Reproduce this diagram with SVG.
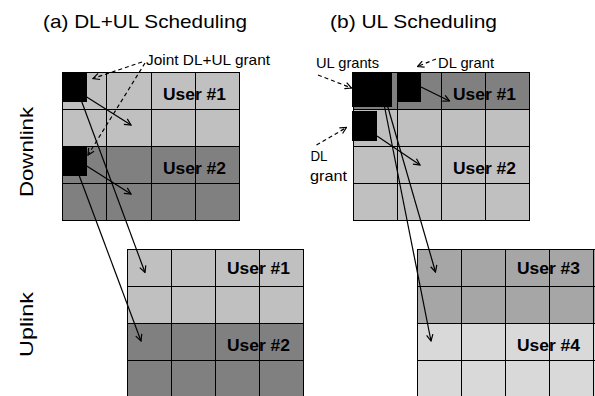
<svg xmlns="http://www.w3.org/2000/svg" width="595" height="396" viewBox="0 0 595 396">
<style>
text{font-family:"Liberation Sans",Arial,sans-serif;fill:#000}
.title{font-size:19px}
.side{font-size:18px}
.user{font-size:17px;font-weight:bold}
.lbl{font-size:15px}
.grid line{stroke:#000;stroke-width:1}
.conn{fill:none;stroke:#000;stroke-width:1.2}
.dash{stroke-dasharray:4 3}
.blk{fill:#000}
</style>
<defs>
<marker id="ah" viewBox="0 0 10 10" refX="9" refY="5" markerWidth="8" markerHeight="8" orient="auto" markerUnits="userSpaceOnUse">
<path d="M1,1 L9,5 L1,9" fill="none" stroke="#000" stroke-width="1.5"/>
</marker>
</defs>
<rect width="595" height="396" fill="#fff"/>

<g id="title-a"><text class="title" x="43" y="28" textLength="204" lengthAdjust="spacingAndGlyphs">(a) DL+UL Scheduling</text></g>
<g id="title-b"><text class="title" x="330" y="28" textLength="167" lengthAdjust="spacingAndGlyphs">(b) UL Scheduling</text></g>
<g id="label-downlink"><text class="side" transform="translate(33,152) rotate(-90)" text-anchor="middle" textLength="90" lengthAdjust="spacingAndGlyphs">Downlink</text></g>
<g id="label-uplink"><text class="side" transform="translate(33,324.5) rotate(-90)" text-anchor="middle" textLength="65" lengthAdjust="spacingAndGlyphs">Uplink</text></g>

<g id="grid-a-dl" class="grid">
<rect x="62" y="72" width="178" height="74" fill="#c0c0c0"/>
<rect x="62" y="146" width="178" height="74" fill="#808080"/>
<line x1="62.5" y1="72" x2="62.5" y2="221"/><line x1="106.5" y1="72" x2="106.5" y2="221"/><line x1="151.5" y1="72" x2="151.5" y2="221"/><line x1="195.5" y1="72" x2="195.5" y2="221"/><line x1="239.5" y1="72" x2="239.5" y2="221"/>
<line x1="62" y1="72.5" x2="240" y2="72.5"/><line x1="62" y1="109.5" x2="240" y2="109.5"/><line x1="62" y1="146.5" x2="240" y2="146.5"/><line x1="62" y1="183.5" x2="240" y2="183.5"/><line x1="62" y1="220.5" x2="240" y2="220.5"/>
<text class="user" x="163" y="100" textLength="63" lengthAdjust="spacingAndGlyphs">User #1</text>
<text class="user" x="163" y="174" textLength="63" lengthAdjust="spacingAndGlyphs">User #2</text>
</g>

<g id="grid-a-ul" class="grid">
<rect x="127" y="249" width="176" height="74" fill="#c0c0c0"/>
<rect x="127" y="323" width="176" height="74" fill="#808080"/>
<line x1="127.5" y1="249" x2="127.5" y2="397"/><line x1="171.5" y1="249" x2="171.5" y2="397"/><line x1="215.5" y1="249" x2="215.5" y2="397"/><line x1="259.5" y1="249" x2="259.5" y2="397"/><line x1="303.5" y1="249" x2="303.5" y2="397"/>
<line x1="127" y1="249.5" x2="304" y2="249.5"/><line x1="127" y1="286.5" x2="304" y2="286.5"/><line x1="127" y1="323.5" x2="304" y2="323.5"/><line x1="127" y1="360.5" x2="304" y2="360.5"/>
<text class="user" x="227" y="274" textLength="63" lengthAdjust="spacingAndGlyphs">User #1</text>
<text class="user" x="227" y="350.5" textLength="63" lengthAdjust="spacingAndGlyphs">User #2</text>
</g>

<g id="grid-b-dl" class="grid">
<rect x="353" y="72" width="176" height="37" fill="#808080"/>
<rect x="353" y="109" width="176" height="111" fill="#c0c0c0"/>
<line x1="353.5" y1="72" x2="353.5" y2="221"/><line x1="397.5" y1="72" x2="397.5" y2="221"/><line x1="441.5" y1="72" x2="441.5" y2="221"/><line x1="485.5" y1="72" x2="485.5" y2="221"/><line x1="529.5" y1="72" x2="529.5" y2="221"/>
<line x1="353" y1="72.5" x2="530" y2="72.5"/><line x1="353" y1="109.5" x2="530" y2="109.5"/><line x1="353" y1="146.5" x2="530" y2="146.5"/><line x1="353" y1="183.5" x2="530" y2="183.5"/><line x1="353" y1="220.5" x2="530" y2="220.5"/>
<text class="user" x="453" y="100" textLength="63" lengthAdjust="spacingAndGlyphs">User #1</text>
<text class="user" x="453" y="174" textLength="63" lengthAdjust="spacingAndGlyphs">User #2</text>
</g>

<g id="grid-b-ul" class="grid">
<rect x="417" y="249" width="178" height="74" fill="#a6a6a6"/>
<rect x="417" y="323" width="178" height="74" fill="#d9d9d9"/>
<line x1="417.5" y1="249" x2="417.5" y2="397"/><line x1="461.5" y1="249" x2="461.5" y2="397"/><line x1="505.5" y1="249" x2="505.5" y2="397"/><line x1="549.5" y1="249" x2="549.5" y2="397"/><line x1="593.5" y1="249" x2="593.5" y2="397"/>
<line x1="417" y1="249.5" x2="595" y2="249.5"/><line x1="417" y1="286.5" x2="595" y2="286.5"/><line x1="417" y1="323.5" x2="595" y2="323.5"/><line x1="417" y1="360.5" x2="595" y2="360.5"/>
<text class="user" x="517" y="274" textLength="63" lengthAdjust="spacingAndGlyphs">User #3</text>
<text class="user" x="517" y="350.5" textLength="63" lengthAdjust="spacingAndGlyphs">User #4</text>
</g>

<g id="grant-a1"><rect class="blk" x="62" y="72" width="25" height="30"/></g>
<g id="grant-a2"><rect class="blk" x="62" y="146" width="25" height="30"/></g>
<g id="grant-b-ul"><rect class="blk" x="352" y="72" width="40" height="35"/></g>
<g id="grant-b-dl1"><rect class="blk" x="397" y="72" width="24" height="30"/></g>
<g id="grant-b-dl2"><rect class="blk" x="352" y="111" width="25" height="30"/></g>

<g id="label-joint"><text class="lbl" x="146" y="65" textLength="124" lengthAdjust="spacingAndGlyphs">Joint DL+UL grant</text></g>
<g id="label-ulgrants"><text class="lbl" x="316" y="68" textLength="63" lengthAdjust="spacingAndGlyphs">UL grants</text></g>
<g id="label-dlgrant-top"><text class="lbl" x="438" y="68" textLength="56" lengthAdjust="spacingAndGlyphs">DL grant</text></g>
<g id="label-dlgrant-left"><text class="lbl" x="310.5" y="160.5" textLength="17" lengthAdjust="spacingAndGlyphs">DL</text><text class="lbl" x="310" y="181" textLength="37" lengthAdjust="spacingAndGlyphs">grant</text></g>

<g id="connectors">
<path class="conn dash" d="M142,62 L93,78.5" marker-end="url(#ah)"/>
<path class="conn dash" d="M145,63 L88,155" marker-end="url(#ah)"/>
<path class="conn" d="M86.7,97 L131,125" marker-end="url(#ah)"/>
<path class="conn" d="M86.7,166 L131,194" marker-end="url(#ah)"/>
<path class="conn" d="M81.5,101 L145,272.5" marker-end="url(#ah)"/>
<path class="conn" d="M79,175 L141,341" marker-end="url(#ah)"/>
<path class="conn dash" d="M318,75 L351.5,88" marker-end="url(#ah)"/>
<path class="conn dash" d="M436,59 L417.5,66.5" marker-end="url(#ah)"/>
<path class="conn dash" d="M316.5,145 L346.5,127.5" marker-end="url(#ah)"/>
<path class="conn" d="M421,87 L449.5,101" marker-end="url(#ah)"/>
<path class="conn" d="M377,136 L420,165" marker-end="url(#ah)"/>
<path class="conn" d="M387,104 L435.5,272" marker-end="url(#ah)"/>
<path class="conn" d="M384,104 L431,341" marker-end="url(#ah)"/>
</g>
</svg>
